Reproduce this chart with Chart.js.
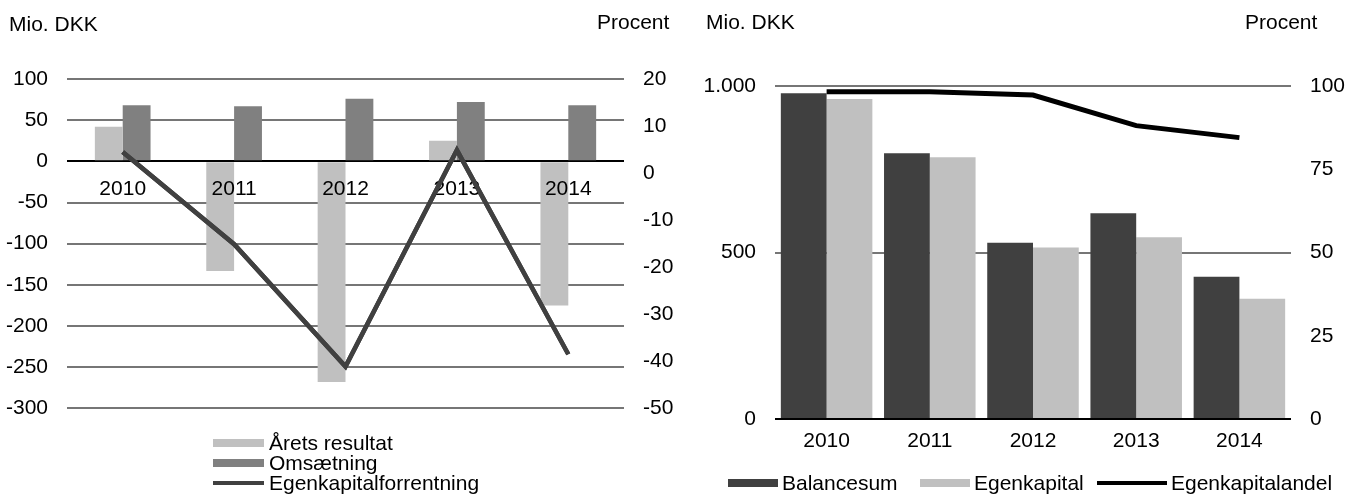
<!DOCTYPE html>
<html>
<head>
<meta charset="utf-8">
<script src="https://cdn.jsdelivr.net/npm/chart.js@4.4.1/dist/chart.umd.min.js"></script>
<style>
  html, body { margin: 0; padding: 0; background: #fff; }
  body { width: 1346px; height: 496px; position: relative; overflow: hidden;
         font-family: 'Liberation Sans', Arial, sans-serif; color: #000; }
  .box { position: absolute; }
  .unit { position: absolute; font-size: 21px; line-height: 20px; white-space: nowrap; }
  .leg { position: absolute; font-size: 21px; line-height: 20px; white-space: nowrap; }
  .leg .sw { position: absolute; }
  .leg .tx { position: absolute; top: 0; }
</style>
</head>
<body>
<div class="box" id="leftBox" style="left:0;top:0;width:690px;height:440px"><canvas id="leftChart"></canvas></div>
<div class="box" id="rightBox" style="left:680px;top:0;width:666px;height:460px"><canvas id="rightChart"></canvas></div>

<div class="unit" style="left:9px;top:14px">Mio. DKK</div>
<div class="unit" style="left:597px;top:12px">Procent</div>
<div class="unit" style="left:706px;top:12px">Mio. DKK</div>
<div class="unit" style="left:1245px;top:12px">Procent</div>

<div id="leftLegend"></div>
<div id="rightLegend"></div>

<script>
// Venstre figur: resultat, omsaetning og egenkapitalforrentning
const years = ["2010", "2011", "2012", "2013", "2014"];
const aretsResultat = [42, -133, -268, 25, -175];
const omsaetning = [68, 67, 76, 72, 68];
const egenkapitalforrentning = [4.5, -15.1, -41.1, 4.9, -38.5];
const leftAxisMio = [-300, 100, 50];   // min, max, step
const leftAxisPct = [-50, 20, 10];

// Hoejre figur: balance og egenkapital
const balancesum = [978, 798, 529, 618, 427];
const egenkapital = [961, 786, 515, 546, 361];
const egenkapitalandel = [98.3, 98.3, 97.3, 88.1, 84.5];
const rightAxisMio = [0, 1000, 500];
const rightAxisPct = [0, 100, 25];

const colors = {
  light: "#c0c0c0",
  mid: "#808080",
  dark: "#404040",
  black: "#000000",
  grid: "#767676",
};

Chart.defaults.font.family = "'Liberation Sans', Arial, sans-serif";
Chart.defaults.font.size = 21;
Chart.defaults.color = "#000000";
Chart.defaults.animation = false;

const fixWidth = (w) => (scale) => { scale.width = w; };
const fixHeight = (h) => (scale) => { scale.height = h; };
const gridColor = (ctx) => (ctx.tick && ctx.tick.value === 0 ? colors.black : colors.grid);
const thousands = (v) => String(v).replace(/\B(?=(\d{3})+(?!\d))/g, ".");

// the year labels sit on the zero line above the bars, the line goes over them
const lineOnTop = {
  id: "lineOnTop",
  afterDraw(chart) {
    const meta = chart.getDatasetMeta(0);
    const area = chart.chartArea;
    const ctx = chart.ctx;
    ctx.save();
    ctx.beginPath();
    ctx.rect(area.left, area.top, area.right - area.left, area.bottom - area.top);
    ctx.clip();
    meta.controller.draw();
    ctx.restore();
  },
};

// Left chart
const leftDatasets = [
  {
    type: "line",
    label: "Egenkapitalforrentning",
    data: egenkapitalforrentning,
    yAxisID: "y1",
    borderColor: colors.dark,
    backgroundColor: colors.dark,
    borderWidth: 4.5,
    pointRadius: 0,
    tension: 0,
    order: 0,
  },
  {
    label: "Årets resultat",
    data: aretsResultat,
    backgroundColor: colors.light,
    yAxisID: "y",
    order: 1,
  },
  {
    label: "Omsætning",
    data: omsaetning,
    backgroundColor: colors.mid,
    yAxisID: "y",
    order: 2,
  },
];

window.leftChart = new Chart(document.getElementById("leftChart"), {
  type: "bar",
  data: { labels: years, datasets: leftDatasets },
  plugins: [lineOnTop],
  options: {
    responsive: true,
    maintainAspectRatio: false,
    datasets: { bar: { categoryPercentage: 0.5, barPercentage: 1 } },
    layout: { padding: { top: 79, bottom: 24, left: 0, right: 0 } },
    scales: {
      x: {
        position: { y: 0 },
        grid: { display: false, drawTicks: false },
        border: { display: false },
        ticks: { padding: 15, autoSkip: false, maxRotation: 0, z: 1 },
      },
      y: {
        position: "left",
        min: leftAxisMio[0],
        max: leftAxisMio[1],
        ticks: { stepSize: leftAxisMio[2], padding: 19 },
        grid: { color: gridColor, lineWidth: 2, drawTicks: false },
        border: { display: false },
        afterFit: fixWidth(67),
      },
      y1: {
        position: "right",
        min: leftAxisPct[0],
        max: leftAxisPct[1],
        ticks: { stepSize: leftAxisPct[2], padding: 19 },
        grid: { display: false, drawTicks: false },
        border: { display: false },
        afterFit: fixWidth(66),
      },
    },
    plugins: { legend: { display: false }, tooltip: { enabled: false } },
  },
});

// Right chart
const rightDatasets = [
  {
    type: "line",
    label: "Egenkapitalandel",
    data: egenkapitalandel,
    yAxisID: "y1",
    borderColor: colors.black,
    backgroundColor: colors.black,
    borderWidth: 5,
    pointRadius: 0,
    tension: 0,
    order: 0,
  },
  {
    label: "Balancesum",
    data: balancesum,
    backgroundColor: colors.dark,
    yAxisID: "y",
    order: 1,
  },
  {
    label: "Egenkapital",
    data: egenkapital,
    backgroundColor: colors.light,
    yAxisID: "y",
    order: 2,
  },
];

window.rightChart = new Chart(document.getElementById("rightChart"), {
  type: "bar",
  data: { labels: years, datasets: rightDatasets },
  options: {
    responsive: true,
    maintainAspectRatio: false,
    datasets: { bar: { categoryPercentage: 0.887, barPercentage: 1 } },
    layout: { padding: { top: 86, bottom: 0, left: 0, right: 0 } },
    scales: {
      x: {
        grid: { display: false, drawTicks: false },
        border: { display: false },
        ticks: { padding: 10 },
        afterFit: fixHeight(41),
      },
      y: {
        position: "left",
        min: rightAxisMio[0],
        max: rightAxisMio[1],
        ticks: { stepSize: rightAxisMio[2], padding: 19, callback: thousands },
        grid: { color: gridColor, lineWidth: 2, drawTicks: false },
        border: { display: false },
        afterFit: fixWidth(95),
      },
      y1: {
        position: "right",
        min: rightAxisPct[0],
        max: rightAxisPct[1],
        ticks: { stepSize: rightAxisPct[2], padding: 19 },
        grid: { display: false, drawTicks: false },
        border: { display: false },
        afterFit: fixWidth(55),
      },
    },
    plugins: { legend: { display: false }, tooltip: { enabled: false } },
  },
});

// HTML legends built from the datasets
function swatch(ds) {
  const isLine = ds.type === "line";
  return { color: isLine ? ds.borderColor : ds.backgroundColor, h: isLine ? 4 : 8 };
}

const leftOrder = [1, 2, 0];
const leftLeg = document.getElementById("leftLegend");
leftOrder.forEach((idx, row) => {
  const ds = leftDatasets[idx];
  const s = swatch(ds);
  const el = document.createElement("div");
  el.className = "leg";
  el.style.left = "213px";
  el.style.top = (433 + row * 20) + "px";
  el.innerHTML =
    '<div class="sw" style="left:0;top:' + (10 - s.h / 2) + 'px;width:51px;height:' + s.h + 'px;background:' + s.color + '"></div>' +
    '<div class="tx" style="left:56px">' + ds.label + '</div>';
  leftLeg.appendChild(el);
});

const rightOrder = [1, 2, 0];
const rightLefts = [728, 920, 1097];
const rightLeg = document.getElementById("rightLegend");
rightOrder.forEach((idx, i) => {
  const ds = rightDatasets[idx];
  const s = swatch(ds);
  const w = ds.type === "line" ? 70 : 50;
  const el = document.createElement("div");
  el.className = "leg";
  el.style.left = rightLefts[i] + "px";
  el.style.top = "473px";
  el.innerHTML =
    '<div class="sw" style="left:0;top:' + (10 - s.h / 2) + 'px;width:' + w + 'px;height:' + s.h + 'px;background:' + s.color + '"></div>' +
    '<div class="tx" style="left:' + (w + 4) + 'px">' + ds.label + '</div>';
  rightLeg.appendChild(el);
});
</script>
</body>
</html>
